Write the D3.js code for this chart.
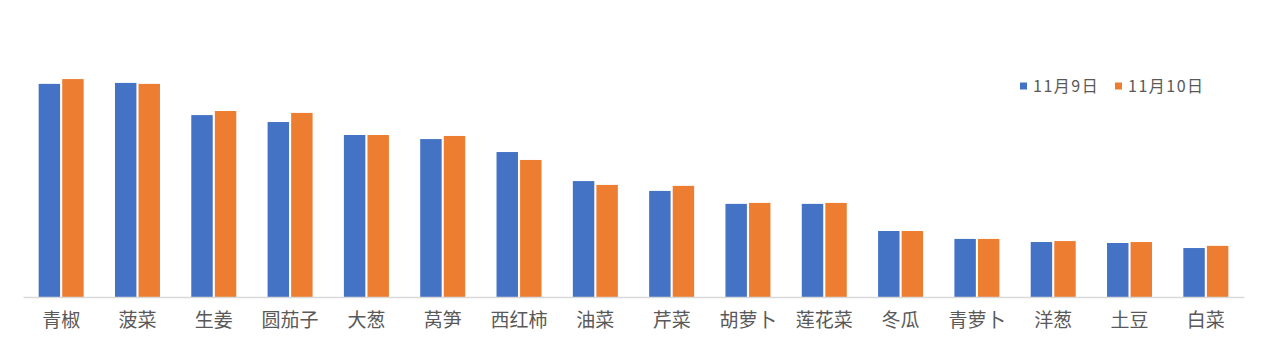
<!DOCTYPE html>
<html><head><meta charset="utf-8">
<script src="https://cdn.jsdelivr.net/npm/d3@7"></script>
<style>body{margin:0;background:#fff;}svg{display:block;}</style>
</head><body>
<svg id="c" width="1267" height="347"></svg>
<script>
const categories = ["青椒","菠菜","生姜","圆茄子","大葱","莴笋","西红柿","油菜","芹菜","胡萝卜","莲花菜","冬瓜","青萝卜","洋葱","土豆","白菜"];
const seriesNames = ["11月9日","11月10日"];
const nov9  = [8.88,8.92,7.58,7.29,6.75,6.58,6.04,4.83,4.42,3.88,3.88,2.75,2.42,2.29,2.25,2.04];
const nov10 = [9.08,8.88,7.75,7.67,6.75,6.71,5.71,4.67,4.63,3.92,3.92,2.75,2.42,2.33,2.29,2.13];
const colors = ["#4472C4","#ED7D31"];

const svg = d3.select("#c");
const left = 23, right = 1244, base = 297;
const y = d3.scaleLinear().domain([0,10]).range([base, 57]);
const x0 = d3.scaleBand().domain(categories).range([left,right]).padding(0);
const bw = x0.bandwidth();
const gw = 45;
const x1 = d3.scaleBand().domain(seriesNames).range([(bw-gw)/2,(bw+gw)/2]).paddingInner(0.09);

const data = categories.map((c,i)=>({c, vals:[nov9[i],nov10[i]]}));
const g = svg.append("g");
const groups = g.selectAll("g.grp").data(data).join("g").attr("transform",d=>`translate(${x0(d.c)},0)`);
groups.selectAll("rect").data(d=>d.vals.map((v,j)=>({v,s:seriesNames[j],j})))
  .join("rect")
  .attr("x",d=>x1(d.s)).attr("width",x1.bandwidth())
  .attr("y",d=>y(d.v)).attr("height",d=>base-y(d.v))
  .attr("fill",d=>colors[d.j]);

// axis
const xAxis = d3.axisBottom(x0).tickSize(0).tickPadding(17);
const ax = svg.append("g").attr("transform",`translate(0,${base})`).call(xAxis);
ax.select(".domain").attr("stroke","#d9d9d9").attr("stroke-width",1.5);
ax.selectAll("text").attr("fill","#595959").style("font-size","19px")
  .style("font-family","'Noto Sans CJK SC','Noto Sans',sans-serif");

// legend
const legend = svg.append("g").attr("transform","translate(1020,86)");
const lx = [0, 95];
seriesNames.forEach((s,i)=>{
  const lg = legend.append("g").attr("transform",`translate(${lx[i]},0)`);
  lg.append("rect").attr("x",0).attr("y",-3.5).attr("width",7).attr("height",7).attr("fill",colors[i]);
  lg.append("text").attr("x",13).attr("y",0).attr("dy","0.35em").text(s)
    .attr("fill","#595959").style("font-size","16px").style("letter-spacing","1.5px")
    .style("font-family","'Noto Sans CJK SC','Noto Sans',sans-serif");
});
</script>
</body></html>
